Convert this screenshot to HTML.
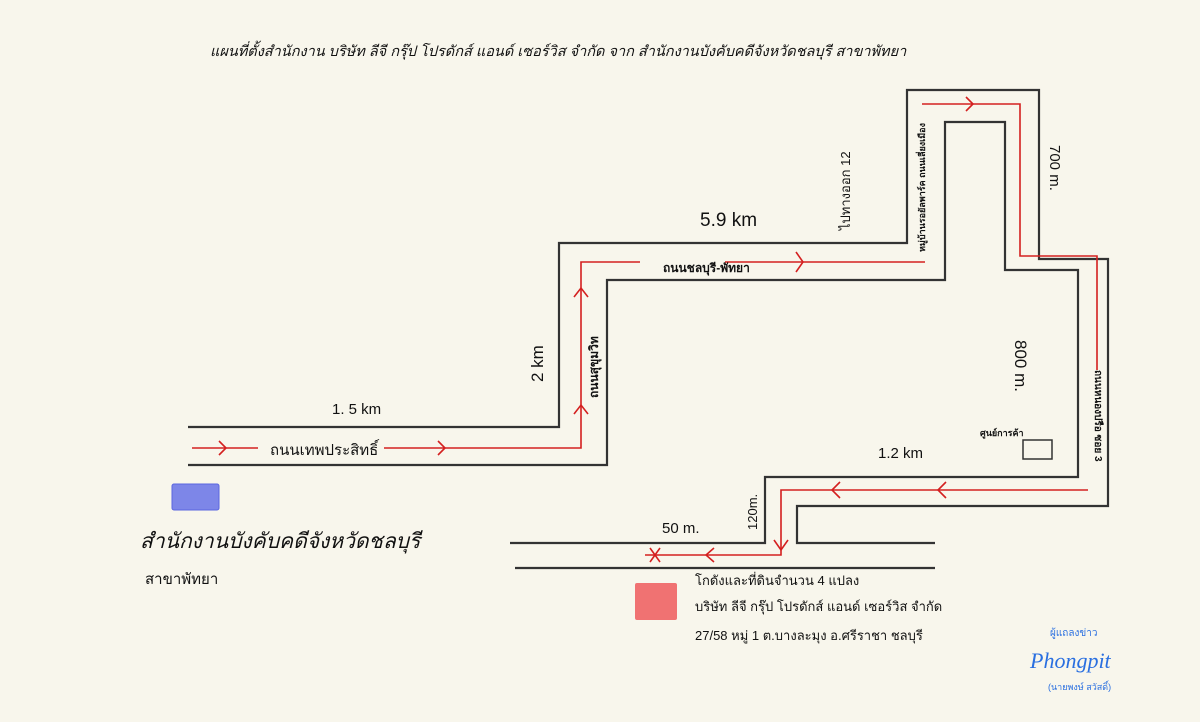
<!DOCTYPE html>
<html><head><meta charset="utf-8"><style>
html,body{margin:0;padding:0;background:#f8f6ec;}
svg{display:block}
text{font-family:"Liberation Sans","DejaVu Sans","Noto Sans CJK SC",sans-serif;fill:#111}
</style></head><body>
<svg width="1200" height="722" viewBox="0 0 1200 722" xmlns="http://www.w3.org/2000/svg">
<rect width="1200" height="722" fill="#f8f6ec"/>
<text x="210" y="56" font-size="14.5" font-style="italic">แผนที่ตั้งสำนักงาน บริษัท ลีจี กรุ๊ป โปรดักส์ แอนด์ เซอร์วิส จำกัด  จาก สำนักงานบังคับคดีจังหวัดชลบุรี สาขาพัทยา</text>
<g fill="none" stroke="#333" stroke-width="2.2">
<path d="M188 427 H559 V243 H907 V90 H1039 V259 H1108 V506 H797 V543 H935"/>
<path d="M188 465 H607 V280 H945 V122 H1005 V270 H1078 V477 H765 V543 H510"/>
<path d="M515 568 H935"/>
<rect x="1023" y="440" width="29" height="19" stroke-width="1.5"/>
</g>
<g fill="none" stroke="#d42020" stroke-width="1.6">
<path d="M192 448 H258 M384 448 H581 V262 H640 M725 262 H925"/>
<path d="M922 104 H1020 V256 H1097 V370"/>
<path d="M1088 490 H781 V555 H645"/>
<path d="M219 441 L226 448 L219 455 M438 441 L445 448 L438 455 M796 252 L803 262 L796 272 M966 97 L973 104 L966 111"/>
<path d="M574 297 L581 288 L588 297 M574 414 L581 405 L588 414"/>
<path d="M946 482 L938 490 L946 498 M840 482 L832 490 L840 498 M774 540 L781 550 L788 540 M714 548 L706 555 L714 562 M650 548 L660 562 M660 548 L650 562"/>
</g>
<rect x="172" y="484" width="47" height="26" rx="2" fill="#7d86e8" stroke="#5a66e0"/>
<rect x="635" y="583" width="42" height="37" rx="2" fill="#f07272"/>
<text x="332" y="414" font-size="15">1. 5 km</text>
<text x="270" y="455" font-size="15">ถนนเทพประสิทธิ์</text>
<text x="700" y="226" font-size="19">5.9 km</text>
<text x="663" y="272" font-size="12" font-weight="bold">ถนนชลบุรี-พัทยา</text>
<text x="878" y="458" font-size="15">1.2 km</text>
<text x="662" y="533" font-size="15">50 m.</text>
<text transform="translate(543,382) rotate(-90)" font-size="17">2 km</text>
<text transform="translate(598,398) rotate(-90)" font-size="12" font-weight="bold">ถนนสุขุมวิท</text>
<text transform="translate(850,230) rotate(-90)" font-size="13">ไปทางออก 12</text>
<text transform="translate(925,252) rotate(-90)" font-size="9" font-weight="bold">หมู่บ้านรอยัลพาร์ค ถนนเลี่ยงเมือง</text>
<text transform="translate(1050,145) rotate(90)" font-size="15">700 m.</text>
<text transform="translate(1015,340) rotate(90)" font-size="17">800 m.</text>
<text transform="translate(1095,370) rotate(90)" font-size="10" font-weight="bold">ถนนหนองปรือ ซอย 3</text>
<text transform="translate(757,530) rotate(-90)" font-size="13">120m.</text>
<text x="980" y="436" font-size="9" font-weight="bold">ศูนย์การค้า</text>
<text x="140" y="548" font-size="21" font-style="italic">สำนักงานบังคับคดีจังหวัดชลบุรี</text>
<text x="145" y="584" font-size="15">สาขาพัทยา</text>
<text x="695" y="585" font-size="13">โกดังและที่ดินจำนวน 4 แปลง</text>
<text x="695" y="611" font-size="13">บริษัท ลีจี กรุ๊ป โปรดักส์ แอนด์ เซอร์วิส จำกัด</text>
<text x="695" y="640" font-size="13">27/58 หมู่ 1 ต.บางละมุง อ.ศรีราชา ชลบุรี</text>
<text x="1048" y="690" font-size="9" style="fill:#2a6fe0">(นายพงษ์ สวัสดิ์)</text>
<text x="1050" y="636" font-size="10" style="fill:#2a6fe0">ผู้แถลงข่าว</text>
<text x="1030" y="668" font-size="22" font-style="italic" style="fill:#2a6fe0;font-family:'Liberation Serif',serif">Phongpit</text>
</svg>
</body></html>
